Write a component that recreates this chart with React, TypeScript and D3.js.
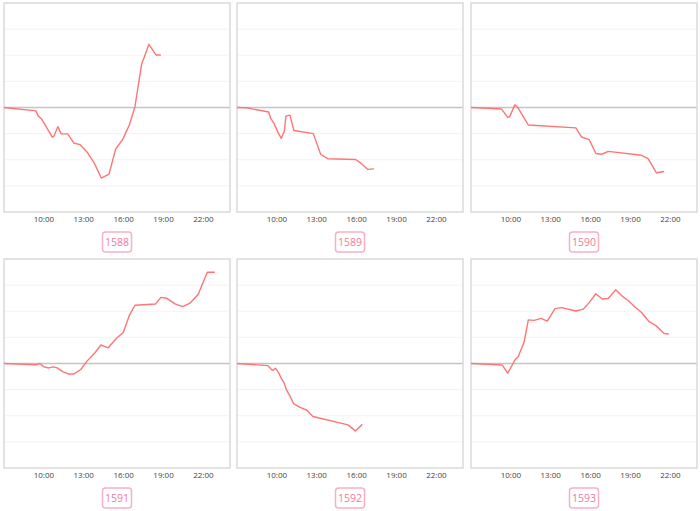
import React, { useEffect, useRef } from "react";
import * as d3 from "d3";

const panelNames = ["1588", "1589", "1590", "1591", "1592", "1593"];

const times1588 = [7, 9.4, 9.58, 9.8, 10.63, 10.75, 11.06, 11.29, 11.79, 12.26, 12.71, 13.26, 13.79, 14.32, 14.9, 15.4, 15.92, 16.42, 16.85, 17.35, 17.9, 18.43, 18.8];
const values1588 = [0, -0.13, -0.33, -0.42, -1.13, -1.1, -0.73, -1.01, -1.01, -1.36, -1.42, -1.71, -2.13, -2.7, -2.55, -1.59, -1.23, -0.68, 0.03, 1.65, 2.42, 2.01, 2.01];

const times1589 = [7, 7.68, 9.38, 9.53, 9.76, 10.13, 10.33, 10.56, 10.68, 10.98, 11.28, 12.74, 13.29, 13.82, 15.92, 16.37, 16.83, 17.3];
const values1589 = [0, -0.01, -0.17, -0.42, -0.59, -1.0, -1.18, -0.91, -0.33, -0.29, -0.88, -1.0, -1.79, -1.96, -1.99, -2.15, -2.37, -2.35];

const times1590 = [7, 9.3, 9.76, 9.9, 10.3, 10.48, 10.96, 11.31, 14.89, 15.32, 15.89, 16.4, 16.83, 17.32, 19.83, 20.32, 20.95, 21.53];
const values1590 = [0, -0.06, -0.38, -0.36, 0.1, 0.03, -0.38, -0.67, -0.78, -1.13, -1.23, -1.76, -1.79, -1.68, -1.83, -1.96, -2.5, -2.45];

const times1591 = [7, 9.4, 9.7, 10.0, 10.38, 10.7, 11.0, 11.45, 11.83, 12.26, 12.78, 13.26, 13.84, 14.29, 14.84, 15.42, 15.97, 16.42, 16.85, 18.41, 18.8, 19.23, 19.86, 20.44, 20.99, 21.61, 22.29, 22.86];
const values1591 = [0, -0.05, 0, -0.13, -0.17, -0.13, -0.17, -0.32, -0.4, -0.4, -0.23, 0.1, 0.41, 0.71, 0.6, 0.95, 1.19, 1.83, 2.23, 2.28, 2.53, 2.5, 2.28, 2.18, 2.31, 2.65, 3.49, 3.49];

const times1592 = [7, 9.33, 9.59, 9.71, 9.89, 10.14, 10.36, 10.54, 10.71, 10.96, 11.26, 11.71, 12.26, 12.71, 15.35, 15.9, 16.42];
const values1592 = [0, -0.08, -0.23, -0.26, -0.18, -0.36, -0.6, -0.74, -1.0, -1.22, -1.54, -1.67, -1.79, -2.03, -2.35, -2.58, -2.33];

const times1593 = [7, 9.35, 9.76, 10.3, 10.55, 11.0, 11.31, 11.76, 12.26, 12.74, 13.32, 13.82, 14.89, 15.44, 15.89, 16.39, 16.87, 17.32, 17.89, 18.44, 18.81, 19.31, 19.83, 20.4, 20.91, 21.53, 21.88];
const values1593 = [0, -0.06, -0.37, 0.13, 0.26, 0.83, 1.67, 1.65, 1.73, 1.62, 2.1, 2.14, 2.01, 2.08, 2.33, 2.67, 2.47, 2.49, 2.82, 2.55, 2.42, 2.17, 1.95, 1.6, 1.45, 1.15, 1.13];

const allTimes = [times1588, times1589, times1590, times1591, times1592, times1593];
const allValues = [values1588, values1589, values1590, values1591, values1592, values1593];

const tickHours = [10, 13, 16, 19, 22];
const tickLabels = ["10:00", "13:00", "16:00", "19:00", "22:00"];
const gridValues = [-3, -2, -1, 1, 2, 3];

const colX = [4, 237, 471];
const rowY = [3, 259];
const PW = 226;
const PH = 209;

export default function App() {
  const ref = useRef<SVGSVGElement>(null);

  useEffect(() => {
    const svg = d3.select(ref.current);
    svg.selectAll("*").remove();

    panelNames.forEach((name, i) => {
      const x0 = colX[i % 3];
      const y0 = rowY[Math.floor(i / 3)];
      const x = d3.scaleLinear().domain([7, 24]).range([x0, x0 + PW]);
      const y = d3.scaleLinear().domain([-4, 4]).range([y0 + PH, y0]);
      const g = svg.append("g");

      g.selectAll("line.grid")
        .data(gridValues)
        .enter()
        .append("line")
        .attr("x1", x0)
        .attr("x2", x0 + PW)
        .attr("y1", (d) => y(d))
        .attr("y2", (d) => y(d))
        .attr("stroke", "#f3f3f3")
        .attr("stroke-width", 1);

      g.append("line")
        .attr("x1", x0)
        .attr("x2", x0 + PW)
        .attr("y1", y(0))
        .attr("y2", y(0))
        .attr("stroke", "#c4c4c4")
        .attr("stroke-width", 1.3);

      g.append("rect")
        .attr("x", x0)
        .attr("y", y0)
        .attr("width", PW)
        .attr("height", PH)
        .attr("fill", "none")
        .attr("stroke", "#dadada")
        .attr("stroke-width", 1.5);

      g.selectAll("text.tick")
        .data(tickHours)
        .enter()
        .append("text")
        .attr("x", (d) => x(d))
        .attr("y", y0 + PH + 10)
        .attr("text-anchor", "middle")
        .attr("font-family", "'Open Sans', 'Noto Sans', sans-serif")
        .attr("font-size", 8)
        .attr("fill", "#444")
        .text((_, j) => tickLabels[j]);

      const pts = allTimes[i].map((t, j) => [t, allValues[i][j]] as [number, number]);
      const line = d3
        .line<[number, number]>()
        .x((d) => x(d[0]))
        .y((d) => y(d[1]));
      g.append("path")
        .attr("d", line(pts) || "")
        .attr("fill", "none")
        .attr("stroke", "#ff7575")
        .attr("stroke-width", 1.4)
        .attr("stroke-linejoin", "round");

      const cx = x0 + PW / 2;
      const cy = y0 + PH + 30;
      g.append("rect")
        .attr("x", cx - 14.5)
        .attr("y", cy - 10)
        .attr("width", 29)
        .attr("height", 20)
        .attr("rx", 3)
        .attr("fill", "#fff")
        .attr("stroke", "#f9b0c6")
        .attr("stroke-width", 1.5);
      g.append("text")
        .attr("x", cx)
        .attr("y", cy + 4)
        .attr("text-anchor", "middle")
        .attr("font-family", "'Open Sans', 'Noto Sans', sans-serif")
        .attr("font-size", 10.5)
        .attr("fill", "#f27a9c")
        .text(name);
    });
  }, []);

  return (
    <div style={{ position: "absolute", left: 0, top: 0 }}>
      <svg ref={ref} width={700} height={511} style={{ display: "block", background: "#fff" }} />
    </div>
  );
}
